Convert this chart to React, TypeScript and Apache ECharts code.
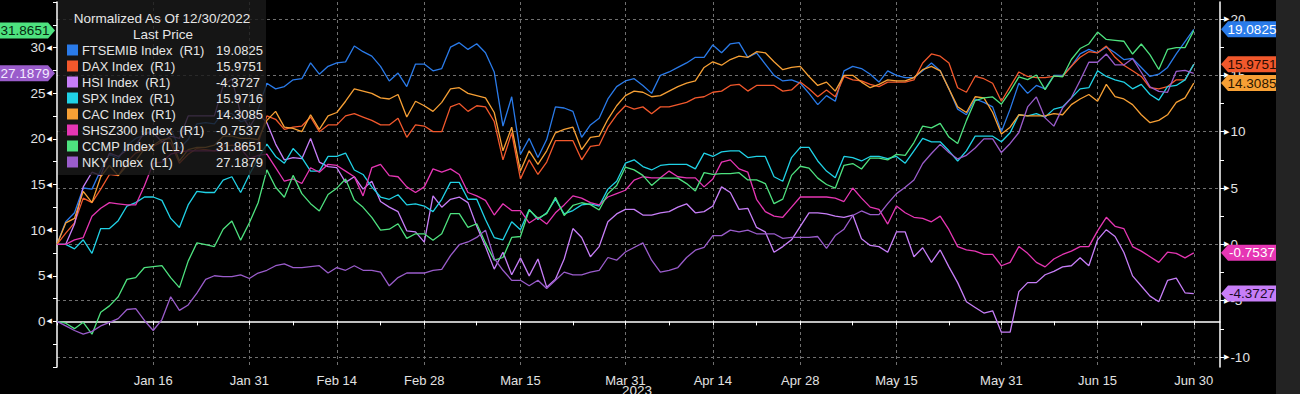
import React, { useEffect, useRef } from 'react';
import * as echarts from 'echarts';

const FONT = "'Liberation Sans', Arial, sans-serif";
const MONTHS = ['Jan', 'Feb', 'Mar', 'Apr', 'May', 'Jun', 'Jul', 'Aug', 'Sep', 'Oct', 'Nov', 'Dec'];

// business days Dec 30 2022 .. Jun 30 2023 (131 points)
function buildDates(): string[] {
  const out: string[] = [];
  const d = new Date(Date.UTC(2022, 11, 30));
  const end = Date.UTC(2023, 5, 30);
  while (d.getTime() <= end) {
    const wd = d.getUTCDay();
    if (wd !== 0 && wd !== 6) out.push(`${MONTHS[d.getUTCMonth()]} ${d.getUTCDate()}`);
    d.setUTCDate(d.getUTCDate() + 1);
  }
  return out;
}
const DATES = buildDates();
const AXIS_PADDING = ['\u2009', '\u2009\u2009', '\u2009\u2009\u2009'];
const CATEGORIES = [...DATES, ...AXIS_PADDING];

const LABEL_DATES = ['Jan 16', 'Jan 31', 'Feb 14', 'Feb 28', 'Mar 15', 'Mar 31', 'Apr 14', 'Apr 28', 'May 15', 'May 31', 'Jun 15', 'Jun 30'];
const MINOR_TICK_DATES = ['Dec 30', 'Jan 9', 'Jan 23', 'Feb 7', 'Feb 21', 'Mar 8', 'Mar 23', 'Apr 7', 'Apr 21', 'May 8', 'May 23', 'Jun 8', 'Jun 22'];

const LEFT_TICK_LABELS = [0, 5, 10, 15, 20, 25, 30];
const RIGHT_TICK_LABELS = [-10, -5, 0, 5, 10, 15, 20];

const TITLE = 'Normalized As Of 12/30/2022';
const SUBTITLE = 'Last Price';
const YEAR_LABEL = '2023';

const FTSEMIB = [
  0, 2.0, 2.8, 5.0, 4.9, 6.6, 8.0, 7.6, 8.8, 9.4,
  9.7, 10.2, 9.9, 10.3, 8.5, 9.3, 10.7, 10.8, 10.7, 11.7,
  11.6, 10.9, 11.1, 12.0, 14.3, 13.8, 14.0, 14.6, 14.7, 16.1,
  15.1, 15.8, 16.1, 16.2, 17.6, 17.1, 16.7, 15.8, 14.5, 15.2,
  14.0, 16.0, 16.0, 15.4, 15.6, 17.5, 17.9, 17.3, 17.8, 17.0,
  15.3, 10.5, 13.1, 8.0, 9.4, 7.7, 9.3, 12.2, 12.1, 11.8,
  9.5, 10.6, 11.2, 12.9, 14.0, 14.5, 14.7, 14.1, 13.4, 15.0,
  15.3, 15.7, 16.1, 16.6, 16.6, 17.7, 17.0, 17.8, 17.9, 16.6,
  17.0, 16.0, 15.0, 14.5, 14.6, 14.3, 13.4, 12.4, 13.2, 12.7,
  15.4, 15.8, 15.6, 15.1, 14.4, 15.4, 15.0, 14.8, 14.8, 15.4,
  16.1, 15.4, 13.8, 12.0, 11.5, 12.9, 12.6, 12.2, 10.0, 12.0,
  14.3, 13.4, 14.1, 13.8, 15.0, 15.0, 15.8, 16.9, 17.3, 17.0,
  17.5, 17.0, 16.4, 16.5, 15.7, 14.9, 15.1, 15.7, 16.9, 18.0,
  19.0825,
];
const DAX = [
  0, 1.0, 1.9, 4.1, 3.7, 4.9, 6.2, 6.1, 7.3, 8.1,
  8.4, 8.7, 9.1, 9.0, 7.2, 8.0, 8.5, 8.4, 8.3, 8.7,
  8.8, 8.6, 8.7, 9.0, 11.4, 11.1, 10.2, 10.4, 10.5, 11.3,
  10.0, 10.6, 10.6, 11.4, 11.6, 11.3, 11.0, 10.6, 10.6, 11.2,
  9.5, 10.6, 10.5, 10.0, 10.0, 12.2, 12.5, 11.8, 12.3, 12.2,
  10.9, 7.5, 9.9, 5.8, 7.5, 6.2, 7.3, 9.2, 9.2, 9.2,
  7.5, 8.7, 8.8, 10.4, 11.5, 12.3, 12.0, 12.2, 11.6, 12.2,
  12.2, 12.4, 12.6, 13.0, 13.1, 13.5, 13.6, 14.1, 14.2, 13.6,
  14.1, 14.1, 14.1, 13.6, 13.7, 14.4, 13.8, 13.1, 13.7, 13.1,
  14.9, 14.6, 14.5, 14.2, 14.0, 14.4, 14.4, 14.4, 14.6, 16.1,
  16.9, 16.7, 16.1, 13.9, 13.5, 14.9, 14.7, 14.3, 12.7, 14.0,
  15.3, 14.9, 14.8, 14.8, 14.9, 14.9, 15.8, 16.6, 17.1, 17.0,
  17.6, 16.6, 15.9, 15.4, 14.9, 13.9, 13.8, 14.0, 14.6, 14.6,
  15.9751,
];
const HSI = [
  0, 0, 1.8, 5.1, 6.4, 6.1, 8.1, 7.8, 8.4, 8.8,
  9.9, 9.9, 9.1, 9.6, 9.4, 11.4, 11.4, 11.4, 11.4, 14.1,
  14.7, 11.6, 10.4, 11.6, 10.8, 8.9, 7.5, 7.7, 7.6, 9.4,
  7.3, 6.9, 6.8, 5.5, 6.0, 4.9, 5.6, 3.8, 3.3, 2.9,
  1.2, 1.1, 0.2, 4.3, 3.3, 4.0, 4.2, 3.7, 1.6, -0.2,
  -2.2, -0.7, -2.7, -1.2, -2.8, -1.3, -3.8, -3.1, -1.3, 1.4,
  0.6, -1.1, -0.2, 2.0, 2.7, 3.1, 3.1, 2.6, 2.6, 2.8,
  2.9, 3.3, 3.6, 2.8, 2.9, 3.4, 5.1, 4.6, 3.1, 3.2,
  1.5, 1.1, -0.7, -0.2, 0.4, 1.6, 2.8, 2.8, 2.7, 2.5,
  2.4, 2.6, 0.5, -0.1, -0.2, -0.7, 1.1, 1.1, -1.1, -0.3,
  -1.6, -0.5, -2.0, -3.4, -5.1, -5.6, -6.1, -5.9, -7.8, -7.8,
  -4.2, -3.4, -3.4, -2.7, -2.4, -2.0, -1.9, -1.2, -1.9, 0.4,
  1.3, 0.7, -0.7, -2.8, -3.7, -4.6, -5.1, -3.2, -3.0, -4.3,
  -4.3727,
];
const SPX = [
  0, 0, -0.4, 0.4, -0.8, 1.4, 1.4, 2.1, 3.4, 3.7,
  4.2, 4.2, 3.9, 2.3, 1.5, 3.5, 4.7, 4.6, 4.6, 5.7,
  6.0, 4.6, 6.2, 7.6, 8.9, 7.8, 7.2, 8.5, 7.7, 6.5,
  6.5, 7.8, 7.8, 8.1, 6.6, 6.2, 5.1, 4.2, 4.0, 4.4,
  3.5, 3.6, 3.4, 2.9, 4.0, 5.5, 5.5, 4.0, 4.0, 2.2,
  0.6, 0.4, 2.0, 1.3, 3.1, 2.2, 2.8, 4.0, 2.7, 3.0,
  3.5, 3.6, 3.4, 4.9, 5.6, 7.2, 7.5, 6.9, 6.6, 7.0,
  7.1, 7.1, 7.1, 6.7, 8.1, 7.8, 8.2, 8.3, 8.3, 7.7,
  7.8, 7.8, 6.0, 5.6, 7.7, 8.6, 8.6, 7.4, 6.5, 5.9,
  7.8, 7.7, 7.4, 7.8, 7.8, 7.6, 7.8, 7.2, 8.3, 9.4,
  9.1, 9.1, 8.3, 7.4, 8.3, 9.6, 9.6, 9.6, 9.1, 9.9,
  11.5, 11.4, 11.6, 11.3, 12.0, 12.2, 13.0, 13.8, 13.9, 15.4,
  14.9, 14.6, 14.4, 13.8, 14.2, 13.3, 12.8, 14.0, 14.1, 14.6,
  15.9716,
];
const CAC = [
  0, 1.9, 2.3, 4.7, 3.7, 6.0, 7.0, 6.1, 7.0, 7.4,
  8.5, 8.8, 9.3, 9.4, 7.4, 8.4, 8.6, 8.6, 8.8, 9.6,
  9.6, 9.4, 9.4, 9.3, 11.0, 11.8, 10.4, 10.3, 10.0, 11.5,
  10.2, 11.4, 11.7, 12.7, 13.8, 13.6, 13.4, 13.0, 12.9, 13.3,
  11.3, 12.7, 12.3, 11.8, 12.6, 13.8, 13.9, 13.4, 13.2, 13.0,
  11.7, 8.3, 10.4, 6.5, 8.3, 7.1, 8.3, 9.9, 10.2, 10.4,
  8.4, 9.5, 9.6, 11.1, 12.3, 13.2, 13.6, 13.5, 13.1, 13.2,
  13.6, 14.0, 14.3, 14.5, 15.7, 16.2, 15.9, 16.4, 16.7, 16.6,
  17.1, 17.0, 16.2, 15.5, 15.7, 15.8, 14.9, 14.1, 14.4, 13.6,
  15.0, 15.0, 14.4, 13.9, 14.2, 14.6, 14.5, 14.5, 14.8, 15.5,
  15.8, 15.4, 13.8, 12.2, 11.7, 13.1, 13.0, 11.7, 9.8, 10.4,
  11.5, 11.4, 11.4, 11.4, 11.6, 11.5, 12.4, 12.9, 13.3, 12.7,
  14.2, 13.1, 12.9, 12.4, 11.5, 10.8, 11.0, 11.5, 12.6, 13.0,
  14.3085,
];
const SHSZ300 = [
  0, 0, 0.4, 0.6, 2.5, 3.2, 3.7, 3.6, 3.5, 3.5,
  5.2, 7.2, 7.3, 8.0, 8.2, 8.3, 8.3, 8.3, 8.3, 8.3,
  8.3, 8.5, 7.6, 7.9, 8.0, 6.8, 5.6, 5.8, 5.4, 6.8,
  6.4, 7.1, 7.0, 6.5, 6.0, 4.3, 6.8, 7.1, 6.1, 6.0,
  5.1, 4.6, 5.1, 6.7, 6.4, 6.7, 6.2, 4.6, 4.3, 3.9,
  2.6, 3.6, 3.0, 3.0, 1.9, 2.4, 1.8, 2.8, 3.5, 4.3,
  4.1, 3.7, 3.5, 4.2, 4.5, 4.8, 5.7, 6.0, 5.9, 5.9,
  6.5, 6.0, 5.9, 5.9, 5.1, 5.8, 7.3, 7.5, 6.7, 6.4,
  4.0, 2.9, 2.5, 2.4, 3.3, 4.2, 4.2, 4.2, 4.2, 4.1,
  3.8, 5.0, 4.1, 3.3, 3.1, 1.8, 3.4, 2.8, 2.4, 2.3,
  2.0, 2.5, 1.3, -0.2, -0.5, -0.6, -0.9, -0.9, -1.9, -1.6,
  -0.2, -0.8, -1.6, -2.0, -1.3, -0.9, -0.6, -0.2, -0.2, 1.2,
  2.4, 1.6, 1.4, -0.2, -0.6, -1.1, -1.6, -0.7, -0.8, -1.2,
  -0.7537,
];
const CCMP = [
  0, -0.2, -0.8, -0.1, -1.4, 1.0, 1.7, 2.7, 4.6, 4.8,
  5.9, 6.0, 6.1, 4.8, 3.7, 6.6, 8.6, 8.4, 8.2, 10.1,
  11.0, 8.9, 10.8, 13.0, 16.6, 14.7, 13.6, 16.0, 14.0, 12.9,
  12.1, 13.9, 14.6, 15.6, 13.3, 12.5, 11.4, 10.0, 10.1, 10.7,
  9.1, 9.6, 9.6, 8.9, 9.6, 11.8, 11.8, 10.3, 10.7, 8.6,
  6.7, 7.0, 9.2, 9.3, 12.2, 11.3, 11.8, 13.6, 11.6, 12.7,
  13.0, 12.8, 12.2, 14.0, 14.9, 16.9, 16.6, 16.0, 14.9, 15.7,
  15.7, 15.7, 15.1, 14.3, 16.3, 16.1, 16.2, 16.2, 16.3, 15.5,
  15.5, 15.1, 12.9, 13.4, 16.0, 17.0, 16.8, 15.7, 15.0, 14.6,
  17.1, 17.3, 16.7, 17.9, 17.9, 17.7, 18.3, 18.2, 19.6, 21.4,
  21.2, 21.7, 20.2, 19.5, 22.0, 24.2, 24.5, 24.6, 23.8, 25.2,
  26.8, 26.5, 27.0, 25.4, 26.9, 26.8, 28.7, 29.9, 30.4, 31.7,
  30.9, 30.8, 30.7, 29.3, 30.4, 29.2, 27.6, 29.8, 30.0, 30.0,
  31.8651,
];
const NKY = [
  0, -0.5, -1.0, -1.4, -1.1, -0.5, -0.1, 0.3, 1.3, 1.4,
  0.1, -1.0, 0.2, 2.7, 1.2, 1.8, 3.1, 4.6, 5.0, 4.9,
  4.9, 5.1, 4.7, 5.3, 5.6, 6.1, 6.3, 5.9, 5.9, 6.0,
  6.1, 5.3, 5.9, 5.6, 6.1, 5.6, 5.6, 5.4, 3.9, 4.8,
  5.3, 5.3, 5.3, 5.6, 5.7, 7.2, 8.4, 8.7, 9.2, 10.0,
  6.9, 5.6, 4.5, 4.5, 3.9, 4.5, 3.6, 4.5, 5.4, 5.1,
  5.1, 5.4, 5.6, 7.0, 6.7, 7.6, 8.1, 8.6, 6.7, 5.4,
  5.6, 5.9, 7.0, 7.8, 8.1, 9.4, 9.4, 10.0, 9.8, 10.0,
  9.6, 9.6, 9.6, 9.1, 9.2, 9.2, 9.2, 9.3, 8.0, 9.4,
  10.1, 11.6, 12.1, 11.7, 11.7, 12.9, 14.0, 14.7, 15.5, 17.3,
  18.4, 19.4, 18.5, 17.8, 18.2, 19.0, 20.0, 20.0, 18.5, 19.5,
  20.7, 23.5, 24.6, 22.3, 21.4, 23.4, 24.5, 26.4, 28.4, 28.4,
  29.3, 28.1, 28.1, 28.8, 27.3, 25.7, 25.2, 25.1, 27.4, 27.5,
  27.1879,
];

const SERIES_NAMES = ['FTSEMIB Index', 'DAX Index', 'HSI Index', 'SPX Index', 'CAC Index', 'SHSZ300 Index', 'CCMP Index', 'NKY Index'];
const SERIES_AXES = ['R1', 'R1', 'R1', 'R1', 'R1', 'R1', 'L1', 'L1'];
const SERIES_DATA = [FTSEMIB, DAX, HSI, SPX, CAC, SHSZ300, CCMP, NKY];
const SERIES_COLORS = ['#2a7bea', '#f2582c', '#c77ef8', '#20d2e6', '#f7a035', '#e636b4', '#4ee27f', '#9a5ccb'];
const TAG_TEXT_COLORS = ['#ffffff', '#2a0c02', '#1c0a28', '#002a30', '#2a1600', '#ffffff', '#06280f', '#f3eaff'];
const SERIES_TAGGED = [true, true, true, false, true, true, true, true];

const GRID_LEFT = 57;
const GRID_RIGHT = 80;
const W = 1300;
const H = 394;

export default function App() {
  const ref = useRef<HTMLDivElement>(null);

  useEffect(() => {
    if (!ref.current) return;
    const chart = echarts.init(ref.current, null, { renderer: 'svg' });

    const labelSet = new Set(LABEL_DATES.map((d) => DATES.indexOf(d)));
    const tickSet = new Set([...LABEL_DATES, ...MINOR_TICK_DATES].map((d) => DATES.indexOf(d)));

    const dashed = { color: '#707070', width: 1, type: [3, 3] as any };

    const option: any = {
      animation: false,
      backgroundColor: '#000000',
      grid: [
        { left: GRID_LEFT, right: GRID_RIGHT, top: 2, bottom: 27 },
        { left: GRID_LEFT, right: GRID_RIGHT, top: 19, bottom: 37 },
      ],
      xAxis: [
        {
          type: 'category',
          gridIndex: 0,
          data: CATEGORIES,
          boundaryGap: false,
          axisLine: { show: true, lineStyle: { color: '#ffffff', width: 1.5 } },
          axisTick: { show: true, length: 4, interval: (i: number) => tickSet.has(i), lineStyle: { color: '#ffffff' } },
          axisLabel: {
            interval: (i: number) => labelSet.has(i),
            color: '#e2e2e2',
            fontSize: 13,
            fontFamily: FONT,
            margin: 7,
          },
          splitLine: { show: true, interval: (i: number) => labelSet.has(i), lineStyle: dashed },
        },
        { type: 'category', gridIndex: 1, data: CATEGORIES, boundaryGap: false, show: false },
      ],
      yAxis: [
        {
          type: 'value',
          gridIndex: 0,
          position: 'left',
          min: -5,
          max: 35,
          interval: 2.5,
          axisLine: { show: true, lineStyle: { color: '#ffffff', width: 1.5 } },
          axisTick: { show: true, length: 4, lineStyle: { color: '#ffffff' } },
          axisLabel: {
            margin: 5,
            formatter: (v: number) => (LEFT_TICK_LABELS.includes(v) ? `{v|${v}}{t|◀}` : ''),
            rich: {
              v: { color: '#e2e2e2', fontSize: 13.5, fontFamily: FONT },
              t: { color: '#ffffff', fontSize: 7, fontFamily: 'DejaVu Sans', padding: [0, 0, 0, 1] },
            },
          },
          splitLine: { show: false },
        },
        {
          type: 'value',
          gridIndex: 1,
          position: 'right',
          min: -10,
          max: 20,
          interval: 2.5,
          axisLine: { show: false },
          axisTick: { show: true, length: 4, lineStyle: { color: '#ffffff' } },
          axisLabel: {
            margin: 4,
            formatter: (v: number) => (RIGHT_TICK_LABELS.includes(v) ? `{t|▶}{v|${v}}` : ''),
            rich: {
              v: { color: '#e2e2e2', fontSize: 13.5, fontFamily: FONT },
              t: { color: '#ffffff', fontSize: 7, fontFamily: 'DejaVu Sans', padding: [0, 1, 0, 0] },
            },
          },
          splitLine: { show: false },
        },
        {
          type: 'value',
          gridIndex: 0,
          position: 'right',
          min: 0,
          max: 1,
          axisLine: { show: true, lineStyle: { color: '#ffffff', width: 1.5 } },
          axisTick: { show: false },
          axisLabel: { show: false },
          splitLine: { show: false },
        },
        {
          type: 'value',
          gridIndex: 1,
          position: 'right',
          min: -10,
          max: 20,
          interval: 5,
          axisLine: { show: false },
          axisTick: { show: false },
          axisLabel: { show: false },
          splitLine: { show: true, lineStyle: dashed },
        },
      ],
      series: SERIES_NAMES.map((name, k) => {
        const right = SERIES_AXES[k] === 'R1';
        return {
          name,
          type: 'line',
          data: SERIES_DATA[k],
          xAxisIndex: right ? 1 : 0,
          yAxisIndex: right ? 1 : 0,
          symbol: 'none',
          silent: true,
          clip: false,
          lineStyle: { width: 1.3, color: SERIES_COLORS[k] },
          itemStyle: { color: SERIES_COLORS[k] },
        };
      }),
    };
    chart.setOption(option);

    const graphics: any[] = [];
    // right grey strip
    graphics.push({ type: 'rect', z: 150, shape: { x: 1276, y: 0, width: W - 1276, height: H }, style: { fill: '#232323' } });

    // legend box
    const boxX = 58;
    graphics.push({ type: 'rect', z: 150, shape: { x: boxX, y: 0, width: 208, height: 175 }, style: { fill: 'rgba(26,26,26,0.82)' } });
    const txt = (text: string, x: number, y: number, align: string, fill = '#e6e6e6', size = 13.5) => ({
      type: 'text',
      z: 160,
      x,
      y,
      style: {
        text,
        fill,
        font: `${size}px ${FONT}`,
        align,
        verticalAlign: 'middle',
        textAlign: align,
        textVerticalAlign: 'middle',
      },
    });
    graphics.push(txt(TITLE, 162, 18, 'center'));
    graphics.push(txt(SUBTITLE, 163, 34, 'center'));
    SERIES_NAMES.forEach((name, k) => {
      const ry = 50 + 16 * k;
      const data = SERIES_DATA[k];
      const last = data[data.length - 1];
      graphics.push({ type: 'rect', z: 160, shape: { x: 67, y: ry - 5.5, width: 11, height: 11 }, style: { fill: SERIES_COLORS[k] } });
      graphics.push(txt(`${name}\u00a0\u00a0(${SERIES_AXES[k]})`, 82, ry, 'left', '#e6e6e6', 12.8));
      graphics.push(txt(last.toFixed(4), 216, ry, 'left', '#e6e6e6', 13));
    });

    // last-value tags on axes
    SERIES_NAMES.forEach((_, k) => {
      if (!SERIES_TAGGED[k]) return;
      const data = SERIES_DATA[k];
      const last = data[data.length - 1];
      const right = SERIES_AXES[k] === 'R1';
      const y = chart.convertToPixel({ yAxisIndex: right ? 1 : 0 } as any, last) as number;
      const hh = 8;
      let pts: number[][];
      let cx: number;
      if (right) {
        const tip = W - GRID_RIGHT + 1;
        pts = [[tip, y], [tip + 7, y - hh], [1276, y - hh], [1276, y + hh], [tip + 7, y + hh]];
        cx = (tip + 7 + 1276) / 2;
      } else {
        pts = [[0, y - hh], [48, y - hh], [55, y], [48, y + hh], [0, y + hh]];
        cx = 25;
      }
      graphics.push({ type: 'polygon', z: 170, shape: { points: pts }, style: { fill: SERIES_COLORS[k] } });
      graphics.push({ ...txt(last.toFixed(4), cx, y, 'center', TAG_TEXT_COLORS[k], 13.5), z: 171 });
    });

    graphics.push(txt(YEAR_LABEL, 637, 390, 'center', '#e2e2e2', 13.5));

    chart.setOption({ graphic: graphics });

    return () => chart.dispose();
  }, []);

  return (
    <div
      ref={ref}
      style={{ position: 'fixed', left: 0, top: 0, width: W, height: H, background: '#000' }}
    />
  );
}
